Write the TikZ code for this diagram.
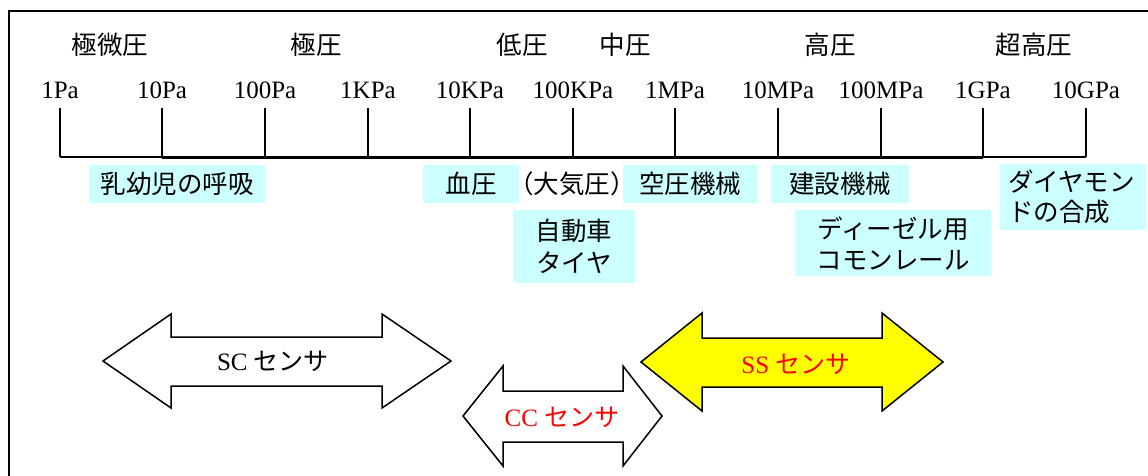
\documentclass[tikz,border=0pt]{standalone}
\usepackage{fontspec}
\setmainfont{Liberation Serif}
\newfontfamily\jp{Noto Sans CJK JP}
\definecolor{boxcyan}{HTML}{CCFFFF}
\definecolor{ssyellow}{HTML}{FFFF00}
\definecolor{sred}{HTML}{FF0000}
\begin{document}
\begin{tikzpicture}[x=1pt,y=-1pt,
  num/.style={font=\fontsize{25}{30}\selectfont, inner sep=0, anchor=base},
  cat/.style={font=\fontsize{25.5}{30}\jp, inner sep=0},
  app/.style={fill=boxcyan, inner sep=0, font=\fontsize{25.5}{32.5}\jp, align=center},
  tick/.style={line width=1.6pt},
  thinbase/.style={line width=1.5pt},
  thickbase/.style={line width=3pt},
  frame/.style={line width=1.8pt},
  sensor/.style={draw=black, line width=1.5pt, line join=miter},
  slabel/.style={font=\fontsize{25}{30}\selectfont, inner sep=0},
  kana/.style={}
]
\useasboundingbox (0,0) rectangle (1148,476);
\fill[white] (0,0) rectangle (1148,476);
% frame
\coordinate (fl) at (9,476);
\coordinate (fc) at (9,11);
\coordinate (fr) at (1148,11);
\draw[frame] (fl) -- (fc) -- (fr);
% category labels
\node[cat] (c1) at (110,45) {極微圧};
\node[cat] (c2) at (316,45) {極圧};
\node[cat] (c3) at (522,45) {低圧};
\node[cat] (c4) at (625,45) {中圧};
\node[cat] (c5) at (830,45) {高圧};
\node[cat] (c6) at (1034,45) {超高圧};
% ticks and numeric labels
\foreach \i/\x/\t in {1/60/1Pa,2/162/10Pa,3/265/100Pa,4/368/1KPa,5/470/10KPa,6/573/100KPa,7/675/1MPa,8/778/10MPa,9/881/100MPa,10/983/1GPa,11/1086/10GPa}{
  \node[num] (n\i) at (\x,99) {\t};
  \coordinate (tt\i) at (\x,108);
  \coordinate (tb\i) at (\x,157);
  \draw[tick] (tt\i) -- (tb\i);
}
\draw[thinbase] (tb1) -- (tb2);
\draw[thickbase] (tb2) -- (tb10);
\draw[thinbase] (tb10) -- (tb11);
% application boxes
\node[app, minimum width=176pt, minimum height=38pt] (a1) at (177,184) {乳幼児の呼吸};
\node[app, minimum width=96pt, minimum height=38pt] (a2) at (471,184) {血圧};
\node[cat] (a3) at (572,184) {（大気圧）};
\node[app, minimum width=134pt, minimum height=38pt] (a4) at (690,184) {空圧機械};
\node[app, minimum width=138pt, minimum height=38pt] (a5) at (840,184) {建設機械};
\node[app, minimum width=122pt, minimum height=73pt] (a6) at (574,246.5) {自動車\\タイヤ};
\node[app, minimum width=196pt, minimum height=66pt, font=\fontsize{25.5}{31}\jp] (a7) at (893,243) {ディーゼル用\\コモンレール};
\node[app, minimum width=146pt, minimum height=66pt, align=left, text width=130pt, font=\fontsize{25.5}{30}\jp] (a8) at (1073,197) {ダイヤモン\\ドの合成};
% sensor double arrows
\draw[sensor, fill=white] (103,361) -- (171,314) -- (171,337) -- (382,337) -- (382,314) -- (451,361) -- (382,408) -- (382,386) -- (171,386) -- (171,408) -- cycle;
\node[slabel] (sc) at (273,361) {SC {\jp\fontsize{25}{30}\selectfont センサ}};
\draw[sensor, fill=white] (463,416) -- (503,366) -- (503,391) -- (623,391) -- (623,366) -- (662,416) -- (623,466) -- (623,442) -- (503,442) -- (503,466) -- cycle;
\node[slabel, text=sred] (cc) at (562,417) {CC {\jp\fontsize{25}{30}\selectfont センサ}};
\draw[sensor, fill=ssyellow] (641,362) -- (702,313) -- (702,338) -- (882,338) -- (882,313) -- (943,362) -- (882,411) -- (882,387) -- (702,387) -- (702,411) -- cycle;
\node[slabel, text=sred] (ss) at (796,364) {SS {\jp\fontsize{25}{30}\selectfont センサ}};
\end{tikzpicture}
\end{document}
